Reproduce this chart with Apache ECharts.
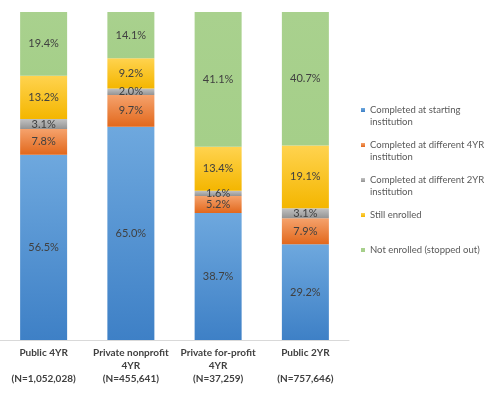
<!DOCTYPE html>
<html>
<head>
<meta charset="utf-8">
<script src="https://cdn.jsdelivr.net/npm/echarts@6/dist/echarts.min.js"></script>
<style>
html,body{margin:0;padding:0;background:#fff;}
#c{width:487px;height:395px;}
</style>
</head>
<body>
<div id="c"></div>
<script>
var categories = ['Public 4YR', 'Private nonprofit 4YR', 'Private for-profit 4YR', 'Public 2YR'];
var tickLabels = ['Public 4YR\n\n(N=1,052,028)', 'Private nonprofit\n4YR\n(N=455,641)', 'Private for-profit\n4YR\n(N=37,259)', 'Public 2YR\n\n(N=757,646)'];
var seriesNames = ['Completed at starting institution', 'Completed at different 4YR institution', 'Completed at different 2YR institution', 'Still enrolled', 'Not enrolled (stopped out)'];
var legendLabels = ['\nCompleted at starting\ninstitution', '\nCompleted at different 4YR\ninstitution', '\nCompleted at different 2YR\ninstitution', '\nStill enrolled\n ', '\nNot enrolled (stopped out)\n '];
var completedStarting = [56.5, 65.0, 38.7, 29.2];
var completedDiff4 = [7.8, 9.7, 5.2, 7.9];
var completedDiff2 = [3.1, 2.0, 1.6, 3.1];
var stillEnrolled = [13.2, 9.2, 13.4, 19.1];
var notEnrolled = [19.4, 14.1, 41.1, 40.7];

var values = [completedStarting, completedDiff4, completedDiff2, stillEnrolled, notEnrolled];
var grads = [
  ['#6ea8de', '#3e80c6'],
  ['#f5a26c', '#e2681c'],
  ['#c2c2c2', '#939393'],
  ['#ffd34f', '#f4b600'],
  ['#a9d18e', '#a5cf89']
];
var solid = ['#5b9bd5', '#ed7d31', '#a5a5a5', '#ffc000', '#a9d18e'];

var chart = echarts.init(document.getElementById('c'), null, {renderer: 'canvas'});
var series = values.map(function (v, i) {
  return {
    name: seriesNames[i],
    type: 'bar',
    stack: 'total',
    barWidth: 47,
    data: v,
    itemStyle: {
      color: new echarts.graphic.LinearGradient(0, 0, 0, 1, [
        {offset: 0, color: grads[i][0]},
        {offset: 1, color: grads[i][1]}
      ])
    },
    label: {
      show: true,
      position: 'inside',
      formatter: function (p) { return p.value.toFixed(1) + '%'; },
      color: '#404040',
      fontFamily: 'Lato',
      fontSize: 11
    },
    emphasis: {disabled: true}
  };
});

chart.setOption({
  animation: false,
  color: solid,
  grid: {left: -10, top: 12, width: 359, height: 328, containLabel: false},
  xAxis: {
    type: 'category',
    data: categories,
    axisTick: {show: false},
    axisLine: {lineStyle: {color: '#d9d9d9', width: 1}},
    axisLabel: {
      formatter: function (v, idx) { return tickLabels[idx]; },
      fontFamily: 'Lato',
      fontWeight: 'bold',
      fontSize: 10,
      color: '#404040',
      lineHeight: 13,
      margin: 6,
      interval: 0
    }
  },
  yAxis: {type: 'value', min: 0, max: 100, show: false, splitLine: {show: false}},
  legend: {
    orient: 'vertical',
    left: 361,
    top: 92,
    padding: 0,
    itemWidth: 4,
    itemHeight: 4,
    itemGap: -1,
    icon: 'rect',
    selectedMode: false,
    data: seriesNames,
    formatter: function (name) { return legendLabels[seriesNames.indexOf(name)]; },
    textStyle: {fontFamily: 'Lato', fontSize: 9.5, color: '#595959', lineHeight: 12}
  },
  series: series
});
</script>
</body>
</html>
